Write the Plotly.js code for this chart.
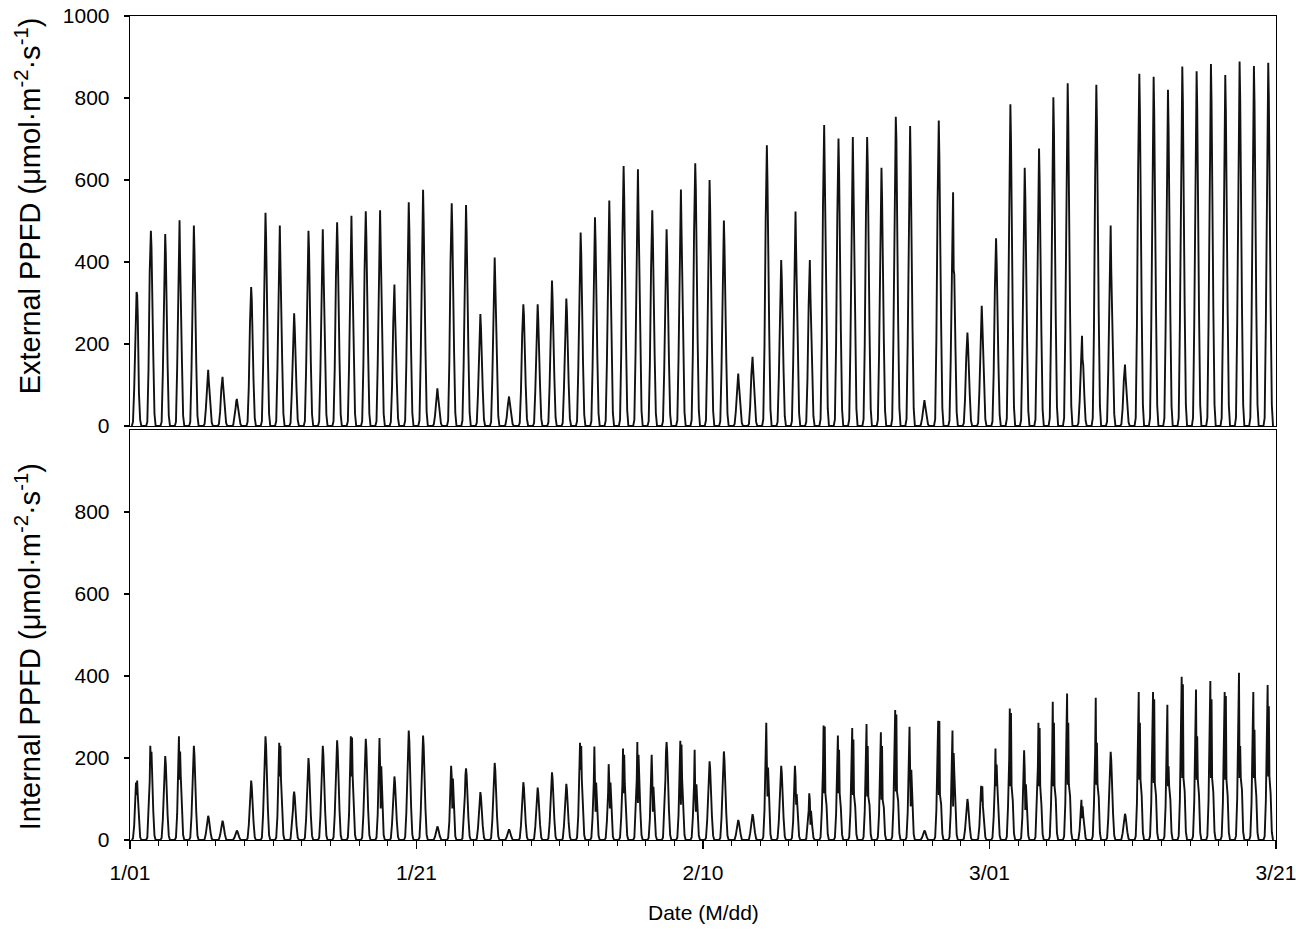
<!DOCTYPE html>
<html>
<head>
<meta charset="utf-8">
<script src="https://cdn.plot.ly/plotly-3.0.1.min.js"></script>
<style>html,body{margin:0;padding:0;background:#fff}#chart{width:1296px;height:930px}</style>
</head>
<body>
<div id="chart"></div>
<script>
// Hours of the day at which the daytime readings are given
const HOURS = [5, 7, 9, 10, 11, 12, 13, 15, 17];
// Night (darkness) readings: before dawn / after dusk
const NIGHT_HOURS = [3, 19];
const NIGHT_VALUE = 0;

// External PPFD, one row per day (1/01 ... 3/20), values at HOURS
const EXT = [
[10,90,230,310,327,320,270,80,15],
[10,137,376,450,476,436,300,173,30],
[10,130,340,460,468,420,280,150,25],
[10,140,370,440,502,400,300,160,25],
[10,135,360,470,489,430,300,155,25],
[5,40,100,130,137,110,90,45,8],
[5,35,90,110,120,100,80,40,8],
[3,20,45,60,66,55,45,20,5],
[10,95,250,320,339,310,220,110,20],
[12,145,380,470,520,460,320,170,30],
[12,140,360,480,489,400,300,160,30],
[8,80,200,260,275,240,180,90,15],
[12,135,350,460,476,430,300,155,28],
[12,135,350,420,480,400,310,160,28],
[12,140,360,470,497,440,320,165,28],
[12,145,370,500,513,420,330,170,30],
[12,150,380,490,524,460,340,175,30],
[12,150,380,500,526,440,340,175,30],
[10,95,250,300,345,280,200,110,20],
[13,155,400,510,546,480,350,180,32],
[14,165,420,540,576,500,370,190,34],
[4,25,65,80,92,75,60,30,6],
[13,155,400,510,543,480,350,180,32],
[13,150,395,500,539,470,345,178,32],
[8,78,200,250,273,240,175,90,16],
[10,115,300,380,411,350,265,135,24],
[3,20,50,65,72,60,48,24,5],
[8,85,220,280,297,270,190,98,18],
[8,85,220,270,297,260,190,98,18],
[9,100,260,330,355,310,230,117,21],
[8,90,230,290,311,280,200,102,18],
[12,135,345,450,472,420,305,155,28],
[12,145,370,480,509,450,330,168,30],
[13,155,400,520,550,470,355,180,32],
[15,180,460,600,634,560,410,210,38],
[15,178,455,590,626,520,405,206,37],
[12,150,385,490,526,460,340,174,31],
[12,135,350,450,480,420,310,158,28],
[14,165,420,540,577,480,370,190,34],
[15,180,470,610,641,580,415,212,38],
[14,170,440,570,600,530,390,198,36],
[12,140,365,470,501,440,325,165,30],
[5,36,95,115,128,105,82,42,8],
[5,48,125,150,169,140,110,56,10],
[16,195,500,640,685,600,445,226,40],
[10,115,295,380,405,360,260,134,24],
[12,148,380,490,523,430,340,173,31],
[10,115,295,370,405,320,260,134,24],
[17,208,535,690,734,620,476,242,43],
[16,200,510,660,701,620,455,231,41],
[16,200,515,640,705,600,458,233,42],
[16,200,515,660,705,640,458,233,42],
[15,180,460,580,630,560,410,208,37],
[17,214,550,700,754,700,490,249,44],
[17,208,535,690,732,640,475,242,43],
[3,18,45,58,63,52,40,20,4],
[17,212,545,700,745,660,484,246,44],
[14,160,415,450,570,380,370,188,34],
[7,65,165,210,228,200,148,75,13],
[8,83,215,260,293,250,190,97,17],
[11,130,335,420,458,400,297,151,27],
[18,223,575,740,785,700,510,259,46],
[15,180,460,580,630,560,410,208,37],
[16,192,495,630,677,600,440,223,40],
[19,228,585,760,802,720,520,265,47],
[19,237,610,790,836,740,543,276,49],
[7,60,150,178,220,160,150,72,13],
[19,236,610,780,832,740,540,275,49],
[11,139,355,420,489,380,318,161,29],
[5,42,110,140,150,120,97,50,9],
[20,244,627,800,859,770,558,283,51],
[20,242,622,800,852,760,554,281,50],
[19,233,600,770,820,730,533,270,48],
[20,249,640,830,877,790,570,289,52],
[20,246,630,820,865,780,562,285,51],
[20,251,645,840,883,790,574,291,52],
[20,243,625,810,856,770,556,282,50],
[21,252,650,840,889,800,578,293,52],
[20,249,641,830,878,790,570,290,52],
[20,252,647,840,886,800,576,292,52]
];

// Internal PPFD, one row per day, values at HOURS
const INT = [
[4,35,90,140,110,145,110,45,7],
[6,58,143,230,190,215,140,70,11],
[5,50,127,185,205,185,127,62,10],
[6,63,157,253,147,216,157,76,12],
[6,58,143,207,230,207,143,69,11],
[2,15,37,53,59,53,37,18,3],
[2,12,29,42,47,42,29,14,2],
[1,6,14,21,23,21,14,7,1],
[4,36,90,130,145,130,90,44,7],
[6,63,157,228,253,228,157,76,12],
[6,59,147,237,155,230,147,71,12],
[3,30,73,106,118,106,73,35,6],
[5,50,124,180,200,180,124,60,10],
[6,58,143,207,230,207,143,69,11],
[6,61,151,219,243,219,151,73,12],
[6,63,157,253,155,250,157,76,12],
[6,62,153,222,247,222,153,74,12],
[6,62,154,249,184,77,180,75,12],
[4,39,96,140,155,140,96,47,8],
[7,67,166,240,267,240,166,80,13],
[6,64,158,230,255,230,158,77,13],
[1,8,20,30,33,30,20,10,2],
[5,45,112,181,155,77,150,54,9],
[4,44,108,158,175,158,108,53,9],
[3,29,73,105,117,105,73,35,6],
[5,47,117,170,188,170,117,56,9],
[1,7,16,23,26,23,16,8,1],
[4,35,87,127,141,127,87,42,7],
[3,32,79,115,128,115,79,38,6],
[4,41,102,149,165,149,102,50,8],
[3,34,85,123,137,123,85,41,7],
[6,59,147,237,171,229,147,71,12],
[6,57,141,228,143,69,140,68,11],
[5,46,115,185,143,77,140,56,9],
[6,56,138,223,114,208,138,67,11],
[6,60,148,239,90,208,148,72,12],
[5,52,129,208,155,69,130,62,10],
[6,60,148,215,239,215,148,72,12],
[6,61,150,242,86,233,150,73,12],
[6,55,136,220,114,69,136,66,11],
[5,48,119,173,192,173,119,58,10],
[5,54,134,194,216,194,134,65,11],
[1,12,30,44,49,44,30,15,2],
[2,16,39,57,63,57,39,19,3],
[7,72,177,286,188,106,177,86,14],
[5,45,112,163,181,163,112,54,9],
[5,45,112,181,155,86,112,54,9],
[3,29,71,114,98,37,71,34,6],
[7,70,173,279,114,277,114,84,14],
[6,64,158,255,114,220,114,77,13],
[7,68,169,273,110,245,110,82,14],
[7,71,175,283,106,229,106,85,14],
[7,66,163,263,98,229,98,79,13],
[8,79,197,317,118,306,118,95,16],
[7,69,171,276,171,82,171,83,14],
[1,6,14,21,23,21,14,7,1],
[7,73,180,291,110,290,110,87,15],
[7,67,166,267,82,212,166,80,13],
[3,25,62,90,100,90,62,30,5],
[3,33,82,132,94,131,82,40,7],
[6,56,138,223,131,184,138,67,11],
[8,80,199,321,131,310,131,96,16],
[5,55,136,219,171,73,136,66,11],
[7,72,177,286,131,273,131,86,14],
[8,84,209,337,131,286,131,101,17],
[9,89,221,357,135,286,135,107,18],
[2,25,61,98,53,82,61,29,5],
[9,87,215,347,135,237,135,104,17],
[5,54,133,194,215,194,133,65,11],
[2,16,40,58,64,58,40,19,3],
[9,90,224,361,147,286,147,108,18],
[9,90,224,361,139,343,139,108,18],
[8,83,205,330,131,180,131,99,17],
[10,100,247,398,151,380,151,119,20],
[9,92,228,367,147,253,147,110,18],
[10,97,241,388,151,343,151,116,19],
[9,90,224,361,147,351,147,108,18],
[10,102,253,408,151,229,151,122,20],
[9,90,224,361,151,269,151,108,18],
[9,95,234,378,155,326,155,113,19]
];

const DATE_TICK_DAYS = [0, 20, 40, 60, 80];
const DATE_TICK_TEXT = ['1/01', '1/21', '2/10', '3/01', '3/21'];
const Y_TICKS_TOP = [0, 200, 400, 600, 800, 1000];
const Y_TICKS_BOTTOM = [0, 200, 400, 600, 800];

function buildSeries(rows) {
  const x = [], y = [];
  rows.forEach((row, d) => {
    x.push(d + NIGHT_HOURS[0] / 24); y.push(NIGHT_VALUE);
    HOURS.forEach((h, i) => { x.push(d + h / 24); y.push(row[i]); });
    x.push(d + NIGHT_HOURS[1] / 24); y.push(NIGHT_VALUE);
  });
  return {x, y};
}

const ext = buildSeries(EXT);
const int_ = buildSeries(INT);
const FONT = 'Liberation Sans, Arial, sans-serif';
const lineStyle = {color: '#111', width: 1.9};

const traces = [
  {x: ext.x, y: ext.y, type: 'scatter', mode: 'lines', line: lineStyle, xaxis: 'x', yaxis: 'y', hoverinfo: 'skip'},
  {x: int_.x, y: int_.y, type: 'scatter', mode: 'lines', line: lineStyle, xaxis: 'x2', yaxis: 'y2', hoverinfo: 'skip'}
];

const axisCommon = {showline: true, linecolor: '#000', linewidth: 1.3, mirror: true, showgrid: false, zeroline: false};

const layout = {
  width: 1296, height: 930,
  margin: {l: 130, r: 20, t: 16, b: 90},
  paper_bgcolor: '#fff', plot_bgcolor: '#fff',
  showlegend: false,
  font: {family: FONT, color: '#000'},
  xaxis: Object.assign({}, axisCommon, {
    domain: [0, 1], anchor: 'y', range: [0, 80], showticklabels: false, ticks: ''
  }),
  yaxis: Object.assign({}, axisCommon, {
    domain: [0.5024, 1], anchor: 'x', range: [0, 1000], tickvals: Y_TICKS_TOP,
    ticks: 'outside', ticklen: 5, tickwidth: 1.2, tickcolor: '#000',
    tickfont: {family: FONT, size: 21, color: '#000'}, ticklabelstandoff: 10
  }),
  xaxis2: Object.assign({}, axisCommon, {
    domain: [0, 1], anchor: 'y2', range: [0, 80],
    tickvals: DATE_TICK_DAYS, ticktext: DATE_TICK_TEXT,
    ticks: 'outside', ticklen: 8, tickwidth: 1.2, tickcolor: '#000',
    minor: {dtick: 2, ticks: 'outside', ticklen: 5, tickwidth: 1, tickcolor: '#000'},
    tickfont: {family: FONT, size: 21, color: '#000'}, ticklabelstandoff: 5,
    ticklabeloverflow: 'allow'
  }),
  yaxis2: Object.assign({}, axisCommon, {
    domain: [0, 0.4976], anchor: 'x2', range: [0, 1000], tickvals: Y_TICKS_BOTTOM,
    ticks: 'outside', ticklen: 5, tickwidth: 1.2, tickcolor: '#000',
    tickfont: {family: FONT, size: 21, color: '#000'}, ticklabelstandoff: 10
  }),
  annotations: [
    {text: 'External PPFD (μmol·m<sup>-2</sup>·s<sup>-1</sup>)', xref: 'paper', yref: 'paper',
     x: -0.089, y: 0.769, xanchor: 'center', yanchor: 'middle', textangle: -90, showarrow: false,
     font: {family: FONT, size: 29, color: '#000'}},
    {text: 'Internal PPFD (μmol·m<sup>-2</sup>·s<sup>-1</sup>)', xref: 'paper', yref: 'paper',
     x: -0.089, y: 0.234, xanchor: 'center', yanchor: 'middle', textangle: -90, showarrow: false,
     font: {family: FONT, size: 29, color: '#000'}},
    {text: 'Date (M/dd)', xref: 'paper', yref: 'paper', x: 0.5, y: -0.0874,
     xanchor: 'center', yanchor: 'middle', showarrow: false,
     font: {family: FONT, size: 21, color: '#000'}}
  ]
};

Plotly.newPlot('chart', traces, layout, {staticPlot: true, displayModeBar: false});
</script>
</body>
</html>
